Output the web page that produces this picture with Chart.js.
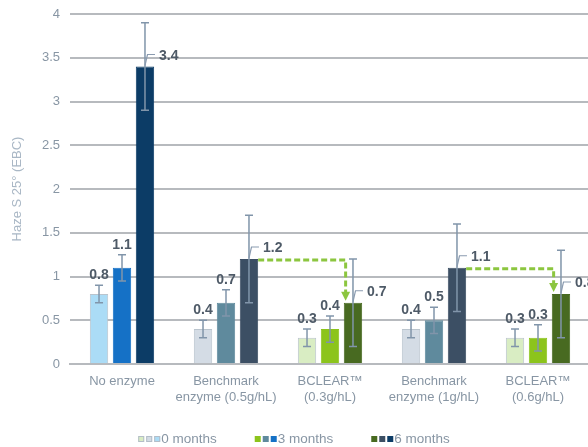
<!DOCTYPE html>
<html>
<head>
<meta charset="utf-8">
<script src="https://cdn.jsdelivr.net/npm/chart.js@4.4.1/dist/chart.umd.min.js"></script>
<style>
  html, body { margin: 0; padding: 0; background: #ffffff; overflow: hidden; }
  #wrap { width: 600px; height: 447px; }
</style>
</head>
<body>
<div id="wrap"><canvas id="c" width="600" height="447"></canvas></div>
<script>
// Treatments (x categories), two-line labels
const categories = [
  ["No enzyme"],
  ["Benchmark", "enzyme (0.5g/hL)"],
  ["BCLEAR™", "(0.3g/hL)"],
  ["Benchmark", "enzyme (1g/hL)"],
  ["BCLEAR™", "(0.6g/hL)"]
];
const seriesNames = ["0 months", "3 months", "6 months"];

// Haze S 25° (EBC) after storage
const haze0m = [0.8, 0.4, 0.3, 0.4, 0.3];
const haze3m = [1.1, 0.7, 0.4, 0.5, 0.3];
const haze6m = [3.4, 1.2, 0.7, 1.1, 0.8];

// Error bar half-widths
const err0m = [0.1, 0.1, 0.1, 0.1, 0.1];
const err3m = [0.15, 0.15, 0.15, 0.15, 0.15];
const err6m = [0.5, 0.5, 0.5, 0.5, 0.5];

const yTicks = [0, 0.5, 1, 1.5, 2, 2.5, 3, 3.5, 4];

// Comparison arrows on the 6-month bars: [from category, to category]
const arrows = [[1, 2], [3, 4]];

// Colour family for each category, and the shades per storage time
const families = {
  blue:  ["#abdcf6", "#1571c6", "#0c3c66"],
  slate: ["#d4dce5", "#5f8a9d", "#3c4f64"],
  green: ["#d9edc3", "#8cc41c", "#486a21"]
};
const categoryFamily = ["blue", "slate", "green", "slate", "green"];
const legendFamilies = ["green", "slate", "blue"];

const FONT = '"Liberation Sans", Arial, Helvetica, sans-serif';
const axisGrey = "#8896a4";

const seriesValues = [haze0m, haze3m, haze6m];
const seriesErrors = [err0m, err3m, err6m];

const datasets = seriesNames.map((name, s) => ({
  label: name,
  data: seriesValues[s],
  backgroundColor: categoryFamily.map(f => families[f][s]),
  borderColor: categoryFamily.map(f => s === 0 ? "#bac4cd" : families[f][s]),
  borderWidth: 1,
  barPercentage: 0.8,
  categoryPercentage: 0.663
}));

// Error bars, value labels and comparison arrows
const annotations = {
  id: "annotations",
  afterDatasetsDraw(chart) {
    const ctx = chart.ctx;
    const y = chart.scales.y;
    ctx.save();
    chart.data.datasets.forEach((ds, s) => {
      const meta = chart.getDatasetMeta(s);
      meta.data.forEach((bar, i) => {
        const v = ds.data[i];
        const e = seriesErrors[s][i];
        const yt = y.getPixelForValue(v + e);
        const yb = y.getPixelForValue(v - e);
        ctx.strokeStyle = "#8195aa";
        ctx.lineWidth = 1.5;
        ctx.setLineDash([]);
        ctx.beginPath();
        ctx.moveTo(bar.x, yt); ctx.lineTo(bar.x, yb);
        ctx.moveTo(bar.x - 4, yt); ctx.lineTo(bar.x + 4, yt);
        ctx.moveTo(bar.x - 4, yb); ctx.lineTo(bar.x + 4, yb);
        ctx.stroke();

        ctx.fillStyle = "#4e5a67";
        ctx.font = "bold 14px " + FONT;
        ctx.textBaseline = "alphabetic";
        const txt = v.toFixed(1);
        if (s < 2) {
          ctx.textAlign = "center";
          ctx.fillText(txt, bar.x, yt - 6);
        } else {
          const top = bar.y;
          ctx.strokeStyle = "#8a9bb0";
          ctx.lineWidth = 1.2;
          ctx.beginPath();
          ctx.moveTo(bar.x, top - 1);
          ctx.lineTo(bar.x + 2.5, top - 12);
          ctx.lineTo(bar.x + 10, top - 12);
          ctx.stroke();
          ctx.textAlign = "left";
          ctx.fillText(txt, bar.x + 14, top - 7);
        }
      });
    });

    const six = chart.getDatasetMeta(2).data;
    arrows.forEach(([from, to]) => {
      const a = six[from], b = six[to];
      const y0 = a.y + 1;
      const x0 = a.x + a.width / 2;
      const x1 = b.x - b.width * 0.4;
      const tip = b.y - 2;
      ctx.strokeStyle = "#8cc63f";
      ctx.fillStyle = "#8cc63f";
      ctx.lineWidth = 3;
      ctx.setLineDash([6, 3]);
      ctx.beginPath();
      ctx.moveTo(x0, y0);
      ctx.lineTo(x1, y0);
      ctx.lineTo(x1, tip - 8);
      ctx.stroke();
      ctx.setLineDash([]);
      ctx.beginPath();
      ctx.moveTo(x1 - 4.5, tip - 9);
      ctx.lineTo(x1 + 4.5, tip - 9);
      ctx.lineTo(x1, tip);
      ctx.closePath();
      ctx.fill();
    });
    ctx.restore();
  }
};

// Bottom legend: three swatches (one per colour family) for each storage time
const swatchLegend = {
  id: "swatchLegend",
  afterDraw(chart) {
    const ctx = chart.ctx;
    ctx.save();
    ctx.font = "13.5px " + FONT;
    ctx.textBaseline = "middle";
    ctx.textAlign = "left";
    const sq = 6, step = 8, gap = 38, cy = 439;
    const swW = step * 2 + sq + 1;
    const widths = seriesNames.map(n => swW + ctx.measureText(n).width);
    const total = widths.reduce((p, w) => p + w, 0) + gap * (seriesNames.length - 1);
    let x = 294 - total / 2;
    seriesNames.forEach((name, s) => {
      legendFamilies.forEach((f, k) => {
        const sx = x + k * step;
        ctx.fillStyle = families[f][s];
        ctx.fillRect(sx, cy - sq / 2, sq, sq);
        if (s === 0) {
          ctx.strokeStyle = "#b4bec8";
          ctx.lineWidth = 1;
          ctx.strokeRect(sx + 0.5, cy - sq / 2 + 0.5, sq - 1, sq - 1);
        }
      });
      ctx.fillStyle = axisGrey;
      ctx.fillText(name, x + swW, cy);
      x += widths[s] + gap;
    });
    ctx.restore();
  }
};

new Chart(document.getElementById("c"), {
  type: "bar",
  data: { labels: categories, datasets },
  plugins: [annotations, swatchLegend],
  options: {
    responsive: false,
    animation: false,
    layout: { padding: { top: 14, right: 10, left: 0, bottom: 0 } },
    plugins: { legend: { display: false }, tooltip: { enabled: false } },
    scales: {
      x: {
        grid: { display: false, drawTicks: false },
        border: { display: true, color: "#b7babe", width: 2 },
        ticks: {
          color: axisGrey,
          font: { family: FONT, size: 13, lineHeight: 1.25 },
          padding: 9,
          maxRotation: 0,
          autoSkip: false
        },
        afterFit(scale) { scale.height = 83; }
      },
      y: {
        min: 0,
        max: 4,
        afterBuildTicks(scale) { scale.ticks = yTicks.map(v => ({ value: v })); },
        grid: { color: "#b7babe", lineWidth: 2, drawTicks: false },
        border: { display: false },
        ticks: {
          color: axisGrey,
          font: { family: FONT, size: 13 },
          padding: 10,
          callback: v => String(v)
        },
        title: {
          display: true,
          text: "Haze S 25° (EBC)",
          color: "#a9b7c5",
          font: { family: FONT, size: 13 },
          padding: { top: 10, bottom: 0 }
        },
        afterFit(scale) {
          scale.width = 70;
          scale.paddingTop = 0;
          scale.paddingBottom = 0;
        }
      }
    }
  }
});
</script>
</body>
</html>
